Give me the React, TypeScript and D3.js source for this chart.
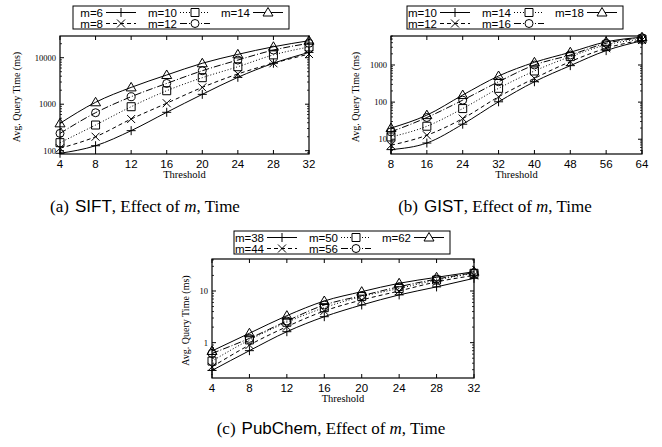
import React from "react";
import * as d3 from "d3";

const SERIF = "'Liberation Serif', 'Times New Roman', serif";
const SANS = "'Liberation Sans', Arial, sans-serif";

// ---- data ----
const siftThresholds = [4, 8, 12, 16, 20, 24, 28, 32];
const siftLabels = ["m=6", "m=8", "m=10", "m=12", "m=14"];
const siftM6 = [88, 128, 270, 670, 1630, 3790, 7600, 13000];
const siftM8 = [113, 200, 480, 1050, 2300, 4470, 7600, 12000];
const siftM10 = [149, 357, 884, 1950, 3720, 6400, 11500, 17000];
const siftM12 = [236, 656, 1450, 2800, 5250, 8900, 14600, 20400];
const siftM14 = [388, 1100, 2300, 4250, 7600, 11800, 17200, 23200];
const siftYTicks = [100, 1000, 10000];

const gistThresholds = [8, 16, 24, 32, 40, 48, 56, 64];
const gistLabels = ["m=10", "m=12", "m=14", "m=16", "m=18"];
const gistM10 = [5.25, 7.9, 25.4, 102, 354, 960, 2440, 4500];
const gistM12 = [6.9, 12.8, 36, 139, 437, 1230, 2830, 4700];
const gistM14 = [11.5, 22.4, 67, 235, 690, 1680, 3470, 5000];
const gistM16 = [15.8, 38.5, 113, 354, 1000, 1860, 3850, 5400];
const gistM18 = [20, 44.6, 155, 505, 1180, 2200, 4200, 5600];
const gistYTicks = [10, 100, 1000];

const pubThresholds = [4, 8, 12, 16, 20, 24, 28, 32];
const pubLabels = ["m=38", "m=44", "m=50", "m=56", "m=62"];
const pubM38 = [0.29, 0.7, 1.63, 3.18, 5.36, 8.4, 12, 17.6];
const pubM44 = [0.34, 0.9, 2.04, 4.1, 6.7, 10, 15, 20];
const pubM50 = [0.44, 1.13, 2.48, 4.76, 7.8, 11.2, 16.3, 22];
const pubM56 = [0.62, 1.21, 2.63, 5.36, 8.1, 12.1, 17, 22.6];
const pubM62 = [0.69, 1.52, 3.33, 6.4, 9.7, 14.1, 18.4, 23.6];
const pubYTicks = [1, 10];

// ---- styles per series index ----
const DASHES = ["", "4,3", "1,2", "7,2,1,2", ""];
const MARKERS = ["plus", "cross", "square", "circle", "triangle"];

function markerPath(kind: string, x: number, y: number): string {
  switch (kind) {
    case "plus":
      return `M${x - 4.5},${y}H${x + 4.5}M${x},${y - 4.5}V${y + 4.5}`;
    case "cross":
      return `M${x - 4},${y - 4}L${x + 4},${y + 4}M${x - 4},${y + 4}L${x + 4},${y - 4}`;
    case "square":
      return `M${x - 4},${y - 4}H${x + 4}V${y + 4}H${x - 4}Z`;
    case "circle":
      return `M${x + 4},${y}A4,4 0 1,1 ${x - 4},${y}A4,4 0 1,1 ${x + 4},${y}Z`;
    default:
      return `M${x},${y - 5}L${x + 5},${y + 3.5}L${x - 5},${y + 3.5}Z`;
  }
}

type PanelProps = {
  frame: { l: number; r: number; t: number; b: number };
  yDomain: [number, number];
  xs: number[];
  series: number[][];
  labels: string[];
  yTicks: number[];
  legend: { x: number; y: number };
  yLabelX: number;
  caption: { x: number; y: number; tag: string; name: string };
};

function Panel(p: PanelProps) {
  const { frame, yDomain, xs, series, labels, yTicks, legend, yLabelX, caption } = p;
  const x = d3.scaleLinear().domain([xs[0], xs[xs.length - 1]]).range([frame.l, frame.r]);
  const y = d3.scaleLog().domain(yDomain).range([frame.b, frame.t]);
  const line = d3
    .line<[number, number]>()
    .x((d) => x(d[0]))
    .y((d) => y(d[1]))
    .curve(d3.curveMonotoneX);

  const minor: number[] = [];
  const lo = Math.floor(Math.log10(yDomain[0]));
  const hi = Math.ceil(Math.log10(yDomain[1]));
  for (let k = lo; k <= hi; k++) {
    for (let m = 2; m <= 9; m++) {
      const v = m * Math.pow(10, k);
      if (v > yDomain[0] && v < yDomain[1]) minor.push(v);
    }
  }
  const fmt = (v: number) => String(v);
  const sampleOffsets = [33, 107, 180];
  const rows = [legend.y + 6.5, legend.y + 17.5];

  return (
    <g>
      {/* series lines */}
      {series.map((vals, i) => (
        <path
          key={"l" + i}
          d={line(xs.map((xv, j) => [xv, vals[j]] as [number, number])) || ""}
          fill="none"
          stroke="#000"
          strokeWidth={1}
          strokeDasharray={DASHES[i]}
        />
      ))}
      {/* markers */}
      {series.map((vals, i) =>
        xs.map((xv, j) => (
          <path
            key={"m" + i + "-" + j}
            d={markerPath(MARKERS[i], x(xv), y(vals[j]))}
            fill="none"
            stroke="#000"
            strokeWidth={1}
          />
        ))
      )}
      {/* frame */}
      <rect
        x={frame.l}
        y={frame.t}
        width={frame.r - frame.l}
        height={frame.b - frame.t}
        fill="none"
        stroke="#000"
        strokeWidth={1.2}
      />
      {/* x ticks */}
      {xs.map((xv) => (
        <g key={"xt" + xv}>
          <line x1={x(xv)} x2={x(xv)} y1={frame.b} y2={frame.b - 4} stroke="#000" />
          <line x1={x(xv)} x2={x(xv)} y1={frame.t} y2={frame.t + 4} stroke="#000" />
          <text
            x={x(xv)}
            y={frame.b + 14}
            textAnchor="middle"
            fontFamily={SANS}
            fontSize={11.5}
          >
            {xv}
          </text>
        </g>
      ))}
      {/* y ticks */}
      {yTicks.map((v) => (
        <g key={"yt" + v}>
          <line x1={frame.l} x2={frame.l + 4} y1={y(v)} y2={y(v)} stroke="#000" />
          <line x1={frame.r} x2={frame.r - 4} y1={y(v)} y2={y(v)} stroke="#000" />
          <text
            x={frame.l - 4}
            y={y(v) + 3}
            textAnchor="end"
            fontFamily={SERIF}
            fontSize={8.5}
          >
            {fmt(v)}
          </text>
        </g>
      ))}
      {minor.map((v) => (
        <g key={"ym" + v}>
          <line x1={frame.l} x2={frame.l + 2} y1={y(v)} y2={y(v)} stroke="#000" strokeWidth={0.8} />
          <line x1={frame.r} x2={frame.r - 2} y1={y(v)} y2={y(v)} stroke="#000" strokeWidth={0.8} />
        </g>
      ))}
      {/* axis titles */}
      <text
        x={(frame.l + frame.r) / 2}
        y={frame.b + 24}
        textAnchor="middle"
        fontFamily={SERIF}
        fontSize={10.5}
      >
        Threshold
      </text>
      <text
        transform={`translate(${yLabelX},${(frame.t + frame.b) / 2 + 2}) rotate(-90)`}
        textAnchor="middle"
        dominantBaseline="central"
        fontFamily={SERIF}
        fontSize={10}
      >
        Avg. Query Time (ms)
      </text>
      {/* legend */}
      <rect x={legend.x} y={legend.y} width={216} height={23} fill="#fff" stroke="#000" strokeWidth={1} />
      {labels.map((lab, i) => {
        const col = i % 3 === 0 && i < 3 ? 0 : -1;
        // row-major in gnuplot vertical ordering: col0: 0,1 col1: 2,3 col2: 4
        const c = Math.floor(i / 2);
        const r = i % 2;
        void col;
        const sx = legend.x + sampleOffsets[c];
        const sy = rows[r];
        return (
          <g key={"lg" + i}>
            <text x={sx - 3} y={sy + 4} textAnchor="end" fontFamily={SANS} fontSize={11.5}>
              {lab}
            </text>
            <line x1={sx} x2={sx + 30} y1={sy} y2={sy} stroke="#000" strokeDasharray={DASHES[i]} />
            <path d={markerPath(MARKERS[i], sx + 15, sy)} fill="#fff" stroke="#000" />
          </g>
        );
      })}
      {/* caption */}
      <text x={caption.x} y={caption.y} textAnchor="middle" fontFamily={SERIF} fontSize={17}>
        <tspan>{caption.tag}</tspan>
        <tspan dx={6} fontFamily={SANS}>
          {caption.name}
        </tspan>
        <tspan>, Effect of </tspan>
        <tspan fontStyle="italic">m</tspan>
        <tspan>, Time</tspan>
      </text>
    </g>
  );
}

export default function App() {
  return (
    <svg
      width={662}
      height={447}
      style={{ position: "absolute", left: 0, top: 0, background: "#fff" }}
    >
      <rect width={662} height={447} fill="#fff" />
      <Panel
        frame={{ l: 60, r: 309, t: 36, b: 154 }}
        yDomain={[85, 29300]}
        xs={siftThresholds}
        series={[siftM6, siftM8, siftM10, siftM12, siftM14]}
        labels={siftLabels}
        yTicks={siftYTicks}
        legend={{ x: 73, y: 6 }}
        yLabelX={16}
        caption={{ x: 145, y: 212, tag: "(a)", name: "SIFT" }}
      />
      <Panel
        frame={{ l: 391, r: 642, t: 36, b: 154 }}
        yDomain={[4, 6040]}
        xs={gistThresholds}
        series={[gistM10, gistM12, gistM14, gistM16, gistM18]}
        labels={gistLabels}
        yTicks={gistYTicks}
        legend={{ x: 407, y: 6 }}
        yLabelX={355}
        caption={{ x: 495, y: 212, tag: "(b)", name: "GIST" }}
      />
      <Panel
        frame={{ l: 212, r: 474, t: 259, b: 378 }}
        yDomain={[0.207, 41.6]}
        xs={pubThresholds}
        series={[pubM38, pubM44, pubM50, pubM56, pubM62]}
        labels={pubLabels}
        yTicks={pubYTicks}
        legend={{ x: 234, y: 231 }}
        yLabelX={185}
        caption={{ x: 331, y: 434, tag: "(c)", name: "PubChem" }}
      />
    </svg>
  );
}
